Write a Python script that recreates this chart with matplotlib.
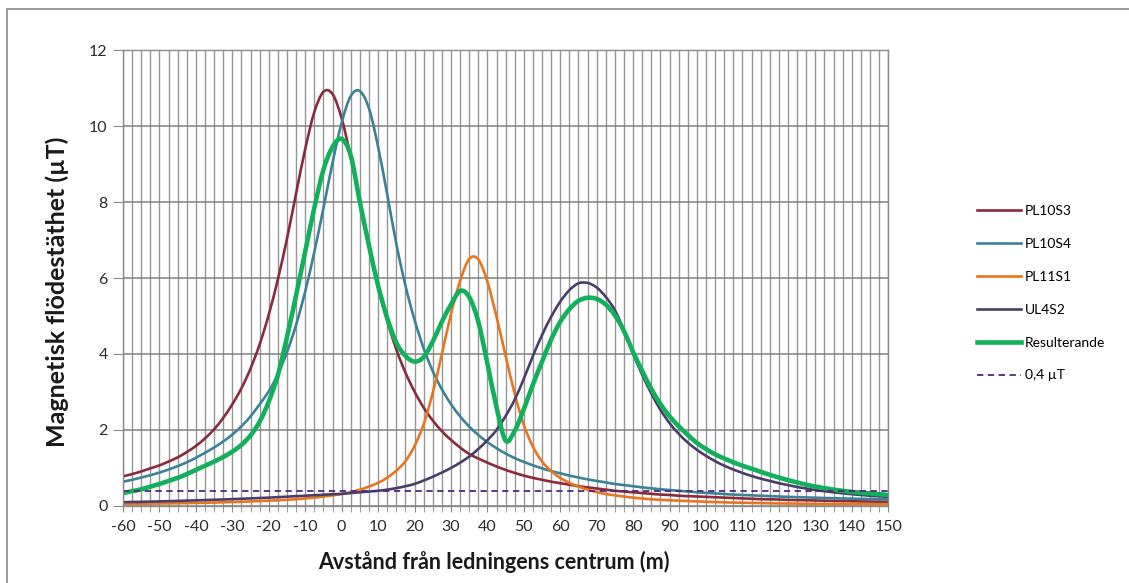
import numpy as np
import matplotlib
matplotlib.use("Agg")
import matplotlib.pyplot as plt
from matplotlib.ticker import MultipleLocator
from matplotlib.patches import Rectangle, PathPatch
from matplotlib.path import Path
from matplotlib.lines import Line2D

plt.rcParams['font.family'] = ['Lato', 'DejaVu Sans']
plt.rcParams['axes.unicode_minus'] = False

# avstånd från ledningens centrum (m), en punkt var 2,5 m
avstand = np.arange(-60, 150.1, 2.5)

pl10s3 = [0.78, 0.84, 0.91, 0.99, 1.07, 1.17, 1.28, 1.42, 1.58, 1.78,
          2.02, 2.32, 2.68, 3.10, 3.62, 4.26, 5.04, 5.97, 7.04, 8.23,
          9.40, 10.37, 10.90, 10.84, 10.20, 9.18, 7.98, 6.82, 5.77, 4.87,
          4.12, 3.51, 3.01, 2.59, 2.25, 1.97, 1.74, 1.54, 1.37, 1.25,
          1.14, 1.04, 0.95, 0.87, 0.80, 0.74, 0.69, 0.64, 0.60, 0.56,
          0.52, 0.49, 0.46, 0.43, 0.40, 0.38, 0.36, 0.34, 0.32, 0.30,
          0.29, 0.27, 0.26, 0.25, 0.24, 0.23, 0.22, 0.21, 0.20, 0.19,
          0.18, 0.175, 0.17, 0.16, 0.155, 0.15, 0.145, 0.14, 0.135, 0.13,
          0.125, 0.12, 0.117, 0.113, 0.11]

pl10s4 = [0.64, 0.69, 0.75, 0.81, 0.88, 0.96, 1.05, 1.15, 1.27, 1.40,
          1.54, 1.70, 1.88, 2.10, 2.36, 2.68, 3.02, 3.47, 4.05, 4.77,
          5.65, 6.69, 7.84, 9.04, 10.09, 10.79, 10.92, 10.46, 9.45, 8.20,
          6.90, 5.80, 4.90, 4.15, 3.55, 3.07, 2.68, 2.36, 2.09, 1.87,
          1.68, 1.52, 1.38, 1.26, 1.16, 1.07, 0.99, 0.92, 0.86, 0.80,
          0.75, 0.70, 0.66, 0.62, 0.58, 0.55, 0.52, 0.49, 0.465, 0.44,
          0.42, 0.40, 0.38, 0.36, 0.345, 0.33, 0.315, 0.30, 0.29, 0.28,
          0.27, 0.26, 0.25, 0.24, 0.232, 0.225, 0.218, 0.21, 0.204, 0.198,
          0.192, 0.187, 0.182, 0.177, 0.172]

pl11s1 = [0.055, 0.057, 0.059, 0.062, 0.065, 0.068, 0.072, 0.077, 0.081, 0.085,
          0.09, 0.097, 0.104, 0.111, 0.12, 0.13, 0.14, 0.15, 0.163, 0.178,
          0.198, 0.22, 0.248, 0.28, 0.315, 0.365, 0.43, 0.51, 0.61, 0.745,
          0.93, 1.18, 1.58, 2.15, 2.98, 4.0, 5.05, 5.92, 6.5, 6.49,
          5.9, 4.98, 3.95, 2.95, 2.13, 1.56, 1.17, 0.92, 0.74, 0.61,
          0.51, 0.43, 0.365, 0.315, 0.28, 0.248, 0.22, 0.197, 0.178, 0.162,
          0.15, 0.14, 0.13, 0.12, 0.112, 0.104, 0.097, 0.09, 0.085, 0.08,
          0.077, 0.072, 0.068, 0.065, 0.062, 0.059, 0.057, 0.055, 0.054, 0.053,
          0.052, 0.051, 0.05, 0.049, 0.048]

ul4s2 = [0.10, 0.105, 0.11, 0.115, 0.12, 0.127, 0.134, 0.141, 0.148, 0.156,
         0.164, 0.172, 0.18, 0.19, 0.20, 0.21, 0.22, 0.232, 0.245, 0.258,
         0.27, 0.283, 0.296, 0.31, 0.32, 0.34, 0.36, 0.38, 0.40, 0.43,
         0.47, 0.52, 0.58, 0.67, 0.77, 0.88, 1.0, 1.14, 1.3, 1.5,
         1.73, 2.0, 2.37, 2.8, 3.35, 3.95, 4.5, 4.98, 5.38, 5.68,
         5.86, 5.87, 5.75, 5.5, 5.15, 4.62, 4.0, 3.45, 2.96, 2.53,
         2.18, 1.9, 1.67, 1.48, 1.32, 1.18, 1.06, 0.96, 0.87, 0.79,
         0.72, 0.66, 0.6, 0.55, 0.5, 0.46, 0.42, 0.39, 0.36, 0.335,
         0.31, 0.29, 0.27, 0.255, 0.24]

resulterande = [0.34, 0.39, 0.44, 0.51, 0.58, 0.66, 0.74, 0.84, 0.95, 1.06,
                1.17, 1.29, 1.43, 1.61, 1.86, 2.22, 2.75, 3.45, 4.45, 5.55,
                6.7, 7.85, 8.85, 9.45, 9.66, 9.22, 8.0, 6.85, 5.8, 4.95,
                4.3, 3.95, 3.8, 3.92, 4.33, 4.85, 5.3, 5.66, 5.5, 4.85,
                3.75, 2.6, 1.72, 1.98, 2.55, 3.2, 3.8, 4.38, 4.85, 5.18,
                5.4, 5.48, 5.45, 5.3, 5.02, 4.6, 4.05, 3.55, 3.08, 2.68,
                2.36, 2.1, 1.87, 1.66, 1.5, 1.36, 1.25, 1.15, 1.06, 0.98,
                0.9, 0.82, 0.75, 0.68, 0.62, 0.56, 0.51, 0.47, 0.43, 0.40,
                0.37, 0.35, 0.33, 0.31, 0.29]

gransvarde = 0.4

serier = [
    ('PL10S3', pl10s3, '#8b2a3c', 1.9),
    ('PL10S4', pl10s4, '#3b8299', 1.9),
    ('PL11S1', pl11s1, '#e8761e', 1.9),
    ('UL4S2', ul4s2, '#4a3d6b', 1.9),
    ('Resulterande', resulterande, '#12b05a', 3.3),
]


def glatt_bana(x, y):
    # utjämnad linje som i Excel (Catmull-Rom som Bezier-kurvor)
    p = np.column_stack([x, y]).astype(float)
    p_ext = np.vstack([p[0], p, p[-1]])
    verts = [p[0]]
    codes = [Path.MOVETO]
    for i in range(len(p) - 1):
        p0, p1, p2, p3 = p_ext[i], p_ext[i + 1], p_ext[i + 2], p_ext[i + 3]
        verts += [p1 + (p2 - p0) / 6, p2 - (p3 - p1) / 6, p2]
        codes += [Path.CURVE4] * 3
    return Path(verts, codes)


fig = plt.figure(figsize=(11.29, 5.83), dpi=100)
# ram runt diagramytan
fig.patches.append(Rectangle((7 / 1129, -0.1), 1.2, 1 - 9 / 583 + 0.1,
                             transform=fig.transFigure, fill=False,
                             edgecolor='#8a8a8a', linewidth=1.2))

ax = fig.add_axes([0.109, 0.1321, 0.6777, 0.7821])

handles = []
for namn, varden, farg, lw in serier:
    ax.add_patch(PathPatch(glatt_bana(avstand, varden), facecolor='none',
                           edgecolor=farg, linewidth=lw, capstyle='round',
                           joinstyle='round'))
    handles.append(Line2D([], [], color=farg, linewidth=lw, label=namn))
grans, = ax.plot(avstand, np.full(len(avstand), gransvarde), color='#4b2a7e',
                 linewidth=1.3, linestyle=(0, (3.5, 2.5)), label='0,4 µT')
handles.append(grans)

ax.set_xlim(-60, 150)
ax.set_ylim(0, 12)
ax.xaxis.set_major_locator(MultipleLocator(10))
ax.xaxis.set_minor_locator(MultipleLocator(2.5))
ax.yaxis.set_major_locator(MultipleLocator(2))

ax.grid(True, which='major', axis='y', color='#808080', linewidth=1.1)
ax.grid(True, which='both', axis='x', color='#969696', linewidth=1.0)
ax.set_axisbelow(True)
for s in ax.spines.values():
    s.set_color('#8a8a8a')
    s.set_linewidth(1.0)

ax.tick_params(axis='both', which='both', colors='#8a8a8a', labelcolor='#2b2b2b',
               labelsize=11.5, direction='out')
ax.tick_params(axis='x', which='both', length=4, pad=6)
ax.tick_params(axis='y', length=7, pad=4)

ax.set_xlabel('Avstånd från ledningens centrum (m)', fontsize=15.5,
              fontweight='bold', color='#1a1a1a')
ax.set_ylabel('Magnetisk flödestäthet (µT)', fontsize=18,
              fontweight='bold', color='#1a1a1a')
ax.xaxis.set_label_coords(0.484, -0.099)
ax.yaxis.set_label_coords(-0.071, 0.47)

fig.legend(handles=handles, loc='upper left', bbox_to_anchor=(0.865, 0.648),
           frameon=False, fontsize=10, handlelength=3.2, handletextpad=0.25,
           labelspacing=1.5, borderaxespad=0, borderpad=0)

fig.savefig('out.png', dpi=100)
